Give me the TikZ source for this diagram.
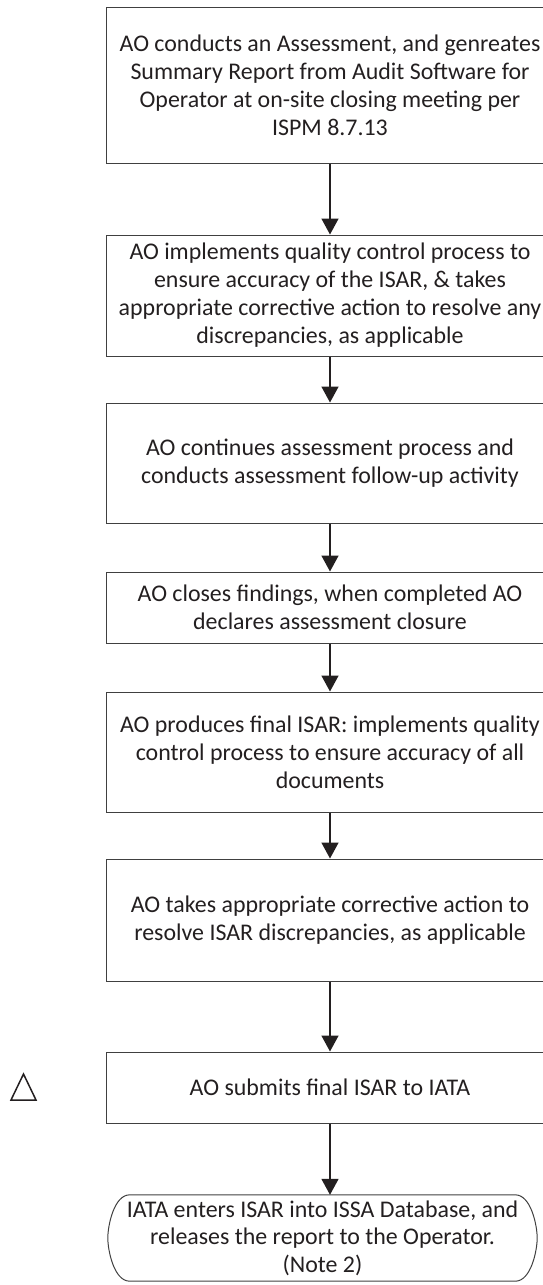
\documentclass[tikz,border=0pt]{standalone}
\usepackage{fontspec}
\setmainfont{Carlito}
\usetikzlibrary{arrows.meta}
\definecolor{txt}{HTML}{231F20}
\definecolor{brd}{HTML}{404040}
\begin{document}
\begin{tikzpicture}[x=1pt,y=-1pt,
  box/.style={draw=brd, line width=1pt, minimum width=448pt, inner sep=0pt, align=center, font=\fontsize{23.9}{28}\selectfont, text=txt},
  term/.style={minimum width=429pt, minimum height=86pt, inner sep=0pt, align=center, font=\fontsize{23.9}{27.5}\selectfont, text=txt},
  arr/.style={-{Triangle[width=17pt,length=16pt]}, line width=1.6pt, draw=txt}]
\useasboundingbox (0,0) rectangle (543,1285);
\clip (0,0) rectangle (543,1285);
\node[box, minimum height=156pt] (b1) at (330,85) {AO conducts an Assessment, and genreates\\Summary Report from Audit Software for\\Operator at on-site closing meeting per\\ISPM 8.7.13};
\node[box, minimum height=121pt] (b2) at (330,295.5) {AO implements quality control process to\\ensure accuracy of the ISAR, \& takes\\appropriate corrective action to resolve any\\discrepancies, as applicable};
\node[box, minimum height=120pt] (b3) at (330,463) {AO continues assessment process and\\conducts assessment follow-up activity};
\node[box, minimum height=71pt] (b4) at (330,607.5) {AO closes findings, when completed AO\\declares assessment closure};
\node[box, minimum height=120pt] (b5) at (330,752) {AO produces final ISAR: implements quality\\control process to ensure accuracy of all\\documents};
\node[box, minimum height=122pt] (b6) at (330,920) {AO takes appropriate corrective action to\\resolve ISAR discrepancies, as applicable};
\node[box, minimum height=71pt] (b7) at (330,1087.5) {AO submits final ISAR to IATA};
\node[term] (t) at (322.5,1238) {IATA enters ISAR into ISSA Database, and\\releases the report to the Operator.\\(Note 2)};
\draw[brd, line width=1pt] ([xshift=22pt]t.north west) -- ([xshift=-22pt]t.north east)
  .. controls ([xshift=-6pt]t.north east) and ([yshift=12pt]t.east) .. (t.east)
  .. controls ([yshift=-12pt]t.east) and ([xshift=-6pt]t.south east) .. ([xshift=-22pt]t.south east)
  -- ([xshift=22pt]t.south west)
  .. controls ([xshift=6pt]t.south west) and ([yshift=-12pt]t.west) .. (t.west)
  .. controls ([yshift=12pt]t.west) and ([xshift=6pt]t.north west) .. cycle;
\draw[txt, line width=1.5pt, line join=miter] (11,1100) -- (23.5,1074) -- (36,1100) -- cycle;
\draw[arr] (b1) -- (b2);
\draw[arr] (b2) -- (b3);
\draw[arr] (b3) -- (b4);
\draw[arr] (b4) -- (b5);
\draw[arr] (b5) -- (b6);
\draw[arr] (b6) -- (b7);
\draw[arr] (b7.south) -- (b7.south |- t.north);
\end{tikzpicture}
\end{document}
